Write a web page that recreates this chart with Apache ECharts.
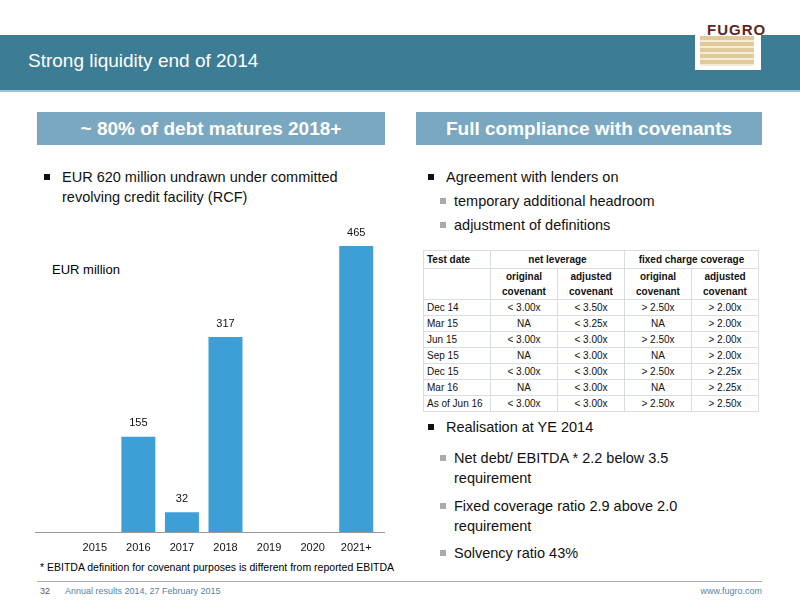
<!DOCTYPE html>
<html><head><meta charset="utf-8">
<script src="https://cdn.jsdelivr.net/npm/echarts@6/dist/echarts.min.js"></script>
<style>
body{margin:0;width:800px;height:600px;position:relative;font-family:"Liberation Sans",Arial,sans-serif;background:#fff;overflow:hidden}
.abs{position:absolute}
#band{left:0;top:35px;width:800px;height:55px;background:#3d7c95}
#title{left:28px;top:50px;color:#fff;font-size:19px}
.box{top:112px;height:33px;background:#7aa8c0;color:#fff;font-weight:bold;font-size:19px;text-align:center;line-height:33px}
.txt{font-size:14.5px;color:#111;line-height:20px}
.sq{display:inline-block;width:6px;height:6px;background:#111;margin-right:12px;vertical-align:2px}
.sq2{display:inline-block;width:6px;height:6px;background:#aaa;margin-right:8px;vertical-align:2px}
table{border-collapse:collapse;font-size:10px;color:#111}
td{border:1px solid #d8dde3;height:15px;padding:0 3px;text-align:center}
td.l{text-align:left}
th{border:1px solid #d8dde3;font-weight:bold;height:15px}
#chart{left:0;top:0;width:800px;height:600px}
</style></head><body>
<div class="abs" id="band"></div>
<div class="abs" style="left:0;top:90px;width:800px;height:2px;background:#9cc3d4"></div>
<div class="abs" id="title">Strong liquidity end of 2014</div>
<div class="abs" style="left:695px;top:22px;width:66px;height:48px;background:#fff"></div>
<div class="abs" style="left:700px;top:36px;width:54px;height:30px;background:repeating-linear-gradient(#e0c99a 0 4px,#f6ecd6 4px 6px)"></div>
<div class="abs" style="left:707px;top:21px;font-weight:bold;font-size:15px;color:#5a2a1e;letter-spacing:1px">FUGRO</div>
<div class="abs box" style="left:37px;width:348px">~ 80% of debt matures 2018+</div>
<div class="abs box" style="left:416px;width:346px">Full compliance with covenants</div>
<div class="abs txt" style="left:44px;top:167px;width:340px"><span class="sq"></span>EUR 620 million undrawn under committed<br><span style="margin-left:18px">revolving credit facility (RCF)</span></div>
<div class="abs" style="left:52px;top:262px;font-size:13px">EUR million</div>
<div class="abs txt" style="left:428px;top:167px"><span class="sq"></span>Agreement with lenders on</div>
<div class="abs txt" style="left:440px;top:191px"><span class="sq2"></span>temporary additional headroom</div>
<div class="abs txt" style="left:440px;top:215px"><span class="sq2"></span>adjustment of definitions</div>
<div class="abs" style="left:423px;top:250px" id="tbl"></div>
<div class="abs txt" style="left:428px;top:417px"><span class="sq"></span>Realisation at YE 2014</div>
<div class="abs txt" style="left:440px;top:448px;width:320px"><span class="sq2"></span>Net debt/ EBITDA * 2.2 below 3.5<br><span style="margin-left:14px">requirement</span></div>
<div class="abs txt" style="left:440px;top:496px;width:320px"><span class="sq2"></span>Fixed coverage ratio 2.9 above 2.0<br><span style="margin-left:14px">requirement</span></div>
<div class="abs txt" style="left:440px;top:543px"><span class="sq2"></span>Solvency ratio 43%</div>
<div class="abs" style="left:40px;top:561px;font-size:10.5px">* EBITDA definition for covenant purposes is different from reported EBITDA</div>
<div class="abs" style="left:37px;top:581px;width:725px;height:1px;background:#aac"></div>
<div class="abs" style="left:40px;top:586px;font-size:9px;color:#555">32</div>
<div class="abs" style="left:65px;top:586px;font-size:9px;color:#5b7fa0">Annual results 2014, 27 February 2015</div>
<div class="abs" style="left:690px;top:586px;font-size:9px;color:#5b7fa0;width:72px;text-align:right">www.fugro.com</div>
<div class="abs" style="left:35px;top:532px;width:350px;height:1px;background:#999"></div>
<div class="abs" id="chart"></div>
<script>
const years = ['2015','2016','2017','2018','2019','2020','2021+'];
const debt = [0,155,32,317,0,0,465];
const tableHead = ['Test date','net leverage','fixed charge coverage'];
const subHead = ['original covenant','adjusted covenant','original covenant','adjusted covenant'];
const testDates = ['Dec 14','Mar 15','Jun 15','Sep 15','Dec 15','Mar 16','As of Jun 16'];
const netOrig = ['< 3.00x','NA','< 3.00x','NA','< 3.00x','NA','< 3.00x'];
const netAdj = ['< 3.50x','< 3.25x','< 3.00x','< 3.00x','< 3.00x','< 3.00x','< 3.00x'];
const fixOrig = ['> 2.50x','NA','> 2.50x','NA','> 2.50x','NA','> 2.50x'];
const fixAdj = ['> 2.00x','> 2.00x','> 2.00x','> 2.00x','> 2.25x','> 2.25x','> 2.50x'];

let h = '<table><tr><th style="text-align:left;padding-left:3px;width:62px">'+tableHead[0]+'</th><th colspan="2">'+tableHead[1]+'</th><th colspan="2">'+tableHead[2]+'</th></tr>';
h += '<tr><td style="height:30px"></td>' + subHead.map(s => '<td style="font-weight:bold;width:60px;line-height:15px">'+s.replace(' ','<br>')+'</td>').join('') + '</tr>';
testDates.forEach((d,i) => {
  h += '<tr><td class="l">'+d+'</td><td>'+netOrig[i]+'</td><td>'+netAdj[i]+'</td><td>'+fixOrig[i]+'</td><td>'+fixAdj[i]+'</td></tr>';
});
document.getElementById('tbl').innerHTML = h + '</table>';

const chart = echarts.init(document.getElementById('chart'));
chart.setOption({
  grid: {left: 73, right: 422, top: 246, bottom: 68},
  xAxis: {
    type: 'category', data: years,
    axisLine: {show: false}, axisTick: {show: false},
    axisLabel: {color: '#111', fontSize: 11, margin: 10}
  },
  yAxis: {type: 'value', min: 0, max: 465, show: false, splitLine: {show: false}},
  series: [{
    type: 'bar', data: debt, barWidth: 34,
    itemStyle: {color: '#3d9fd6'},
    label: {show: true, position: 'top', color: '#111', fontSize: 11, distance: 8,
      formatter: p => p.value ? p.value : ''}
  }]
});
</script>
</body></html>
